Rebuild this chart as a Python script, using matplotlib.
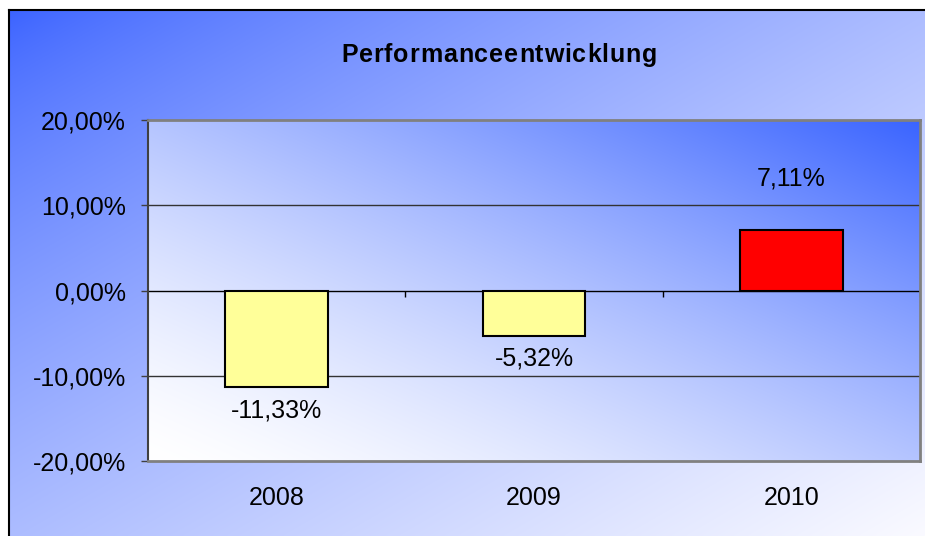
import matplotlib.pyplot as plt
import numpy as np
from matplotlib.font_manager import FontProperties
from matplotlib.ticker import FuncFormatter

# ---- data ----
years = ['2008', '2009', '2010']
performance = [-11.33, -5.32, 7.11]
bar_colors = ['#ffff99', '#ffff99', '#ff0000']
title = 'Performanceentwicklung'

plt.rcParams['font.family'] = ['Liberation Sans', 'DejaVu Sans']

W, H = 925, 536
fig = plt.figure(figsize=(W / 100, H / 100), dpi=100)
fig.patch.set_facecolor('white')


def gradient(c0, c1, t):
    c0 = np.array(c0) / 255.0
    c1 = np.array(c1) / 255.0
    t = t[..., None]
    return c0 * (1 - t) + c1 * t


# ---- chart-area background (blue top-left -> white bottom-right) ----
bg = fig.add_axes([9 / W, 0, 1 - 9 / W, 1 - 10 / H])
gx, gy = np.meshgrid(np.linspace(0, 1, 300), np.linspace(0, 1, 300))
bg.imshow(gradient((58, 98, 255), (250, 250, 255), ((gx + gy) / 2) ** 0.75),
          extent=(0, 1, 0, 1), aspect='auto', origin='upper', interpolation='bilinear')
bg.set_xticks([])
bg.set_yticks([])
for side in ['right', 'bottom']:
    bg.spines[side].set_visible(False)
for side in ['left', 'top']:
    bg.spines[side].set_color('black')
    bg.spines[side].set_linewidth(1.5)

# ---- plot area ----
ax = fig.add_axes([148 / W, 1 - 461 / H, (920 - 148) / W, (461 - 120) / H])
x = np.arange(len(years))
ax.set_xlim(-0.5, len(years) - 0.5)
ax.set_ylim(-20, 20)

px, py = np.meshgrid(np.linspace(0, 1, 300), np.linspace(0, 1, 300))
ax.imshow(gradient((255, 255, 255), (58, 100, 255), ((px + py) / 2) ** 1.4),
          extent=(-0.5, len(years) - 0.5, -20, 20), aspect='auto', origin='lower',
          interpolation='bilinear', zorder=0)

# gridlines and zero (category) axis
for v in [10, -10]:
    ax.axhline(v, color='#333333', lw=1, zorder=1)
ax.axhline(0, color='black', lw=1, zorder=1)
boundaries = x + 0.5
ax.vlines(boundaries, -0.75, 0, color='black', lw=1, zorder=1)

bars = ax.bar(x, performance, width=0.4, color=bar_colors, edgecolor='black',
              linewidth=1.5, zorder=3)

for xi, v in zip(x, performance):
    label = f'{v:.2f}'.replace('.', ',') + '%'
    if v >= 0:
        ax.annotate(label, (xi, v), xytext=(0, 32), textcoords='offset points',
                    ha='center', va='baseline', fontsize=18, zorder=4)
    else:
        ax.annotate(label, (xi, v), xytext=(0, -8), textcoords='offset points',
                    ha='center', va='top', fontsize=18, zorder=4)

ax.set_yticks([-20, -10, 0, 10, 20])
ax.yaxis.set_major_formatter(FuncFormatter(lambda v, p: f'{v:.2f}'.replace('.', ',') + '%'))
ax.tick_params(axis='y', length=5, width=1, color='#404040', pad=11, labelsize=18)
ax.set_xticks(x)
ax.set_xticklabels(years)
ax.tick_params(axis='x', length=0, pad=18, labelsize=18)

for side in ['top', 'right', 'bottom']:
    ax.spines[side].set_color('#808080')
    ax.spines[side].set_linewidth(2)
ax.spines['left'].set_color('#404040')
ax.spines['left'].set_linewidth(1.5)

# ---- letter-spaced bold title ----
fig.canvas.draw()
renderer = fig.canvas.get_renderer()
fp = FontProperties(family='Liberation Sans', weight='bold', size=18)
widths = [renderer.get_text_width_height_descent(ch, fp, ismath=False)[0] for ch in title]
target = 316.0
spacing = (target - sum(widths)) / (len(title) - 1)
cx = 499.0
xpos = cx - target / 2
for ch, w in zip(title, widths):
    fig.text(xpos / W, 1 - 62 / H, ch, fontproperties=fp, ha='left', va='baseline')
    xpos += w + spacing

fig.savefig('out.png', dpi=100)
